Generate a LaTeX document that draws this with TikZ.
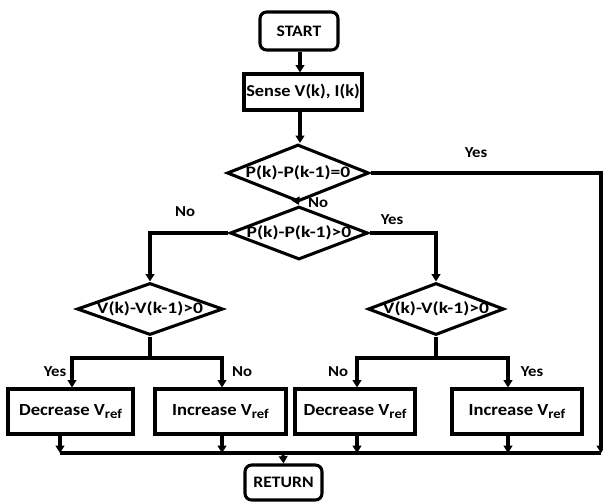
\documentclass[tikz,border=0pt]{standalone}
\usepackage{fontspec}
\setmainfont{Carlito}[FakeStretch=1.1]
\newfontfamily\widefont{Carlito}[FakeStretch=1.22]
\usetikzlibrary{shapes.geometric,arrows.meta}
\newcommand{\vref}{V\raisebox{-0.45ex}{\fontsize{10}{12}\selectfont ref}}
\begin{document}
\begin{tikzpicture}[x=0.75pt,y=-0.75pt,
  every node/.style={font=\bfseries},
  line width=2.3pt,
  arr/.style={-{Triangle[length=5.5pt,width=6.5pt]}},
  proc/.style={draw, rectangle, inner sep=0pt, minimum height=33.75pt, font=\fontsize{12.7}{15}\bfseries\selectfont},
  term/.style={draw, rectangle, rounded corners=5pt, inner sep=0pt, font=\fontsize{12}{14}\bfseries\selectfont},
  dec/.style={draw, diamond, inner sep=0pt},
  dtext/.style={font=\widefont\fontsize{12}{14}\bfseries\selectfont, inner sep=0pt},
  lbl/.style={font=\fontsize{11.4}{13}\bfseries\selectfont, inner sep=0pt}
]
\useasboundingbox (0,0) rectangle (603,501);

\node[term, minimum width=58.5pt, minimum height=28.5pt] (start) at (299,31) {START};
\node[proc, minimum width=88.5pt, minimum height=27pt, font=\fontsize{12.5}{15}\bfseries\selectfont] (sense) at (303,92) {Sense V(k), I(k)};
\node[dec, minimum width=106.5pt, minimum height=42.75pt, label={[dtext]center:P(k)-P(k-1)=0}] (d1) at (298,173) {};
\node[dec, minimum width=103.5pt, minimum height=39.75pt, label={[dtext]center:P(k)-P(k-1)>0}] (d2) at (299,233) {};
\node[dec, minimum width=109.5pt, minimum height=39pt, label={[dtext]center:V(k)-V(k-1)>0}] (d3) at (150,309) {};
\node[dec, minimum width=102pt, minimum height=39pt, label={[dtext]center:V(k)-V(k-1)>0}] (d4) at (436,309) {};

\node[proc, minimum width=93.75pt] (b1) at (70.5,411.5) {Decrease \vref};
\node[proc, minimum width=98.25pt] (b2) at (220.5,411.5) {Increase \vref};
\node[proc, minimum width=90pt] (b3) at (355,411.5) {Decrease \vref};
\node[proc, minimum width=97.5pt] (b4) at (517,411.5) {Increase \vref};
\node[term, minimum width=57.75pt, minimum height=26.25pt] (ret) at (283.5,482.5) {RETURN};

% coordinates
\coordinate (yc) at (601,173);
\coordinate (busL) at (60,453);
\coordinate (busR) at (601,453);
\coordinate (j3) at (150,358);
\coordinate (j3L) at (72,358);
\coordinate (j3R) at (222,358);
\coordinate (j4) at (436,358);
\coordinate (j4L) at (357,358);
\coordinate (j4R) at (508,358);
\coordinate (jr) at (283,453);
\coordinate (c2) at (222,453);
\coordinate (c3) at (357,453);
\coordinate (c4) at (508,453);

% connectors
\draw[arr] (start.south -| 300,0) -- (sense.north -| 300,0);
\draw[arr] (sense.south -| 300,0) -- (d1.north -| 300,0);
\draw[arr] (d1.south) -- (d2.north);
\draw[arr] (d1.east) -- (yc) -- (busR);
\draw[arr] (d2.west) -| (d3.north);
\draw[arr] (d2.east) -| (d4.north);

\draw (d3.south) -- (j3);
\draw[arr] (j3) -- (j3L) -- (j3L |- b1.north);
\draw[arr] (j3) -- (j3R) -- (j3R |- b2.north);
\draw (d4.south) -- (j4);
\draw[arr] (j4) -- (j4L) -- (j4L |- b3.north);
\draw[arr] (j4) -- (j4R) -- (j4R |- b4.north);

\draw[arr] (busL |- b1.south) -- (busL);
\draw[arr] (c2 |- b2.south) -- (c2);
\draw[arr] (c3 |- b3.south) -- (c3);
\draw[arr] (c4 |- b4.south) -- (c4);
\draw (busL) -- (busR);
\draw[arr] (jr) -- (ret.north);

% labels
\node[lbl] (l1) at (476,153) {Yes};
\node[lbl] (l2) at (318,203) {No};
\node[lbl] (l3) at (185,212) {No};
\node[lbl] (l4) at (392,220) {Yes};
\node[lbl] (l5) at (55,372) {Yes};
\node[lbl] (l6) at (242,372) {No};
\node[lbl] (l7) at (338,372) {No};
\node[lbl] (l8) at (532,372) {Yes};
\end{tikzpicture}
\end{document}
